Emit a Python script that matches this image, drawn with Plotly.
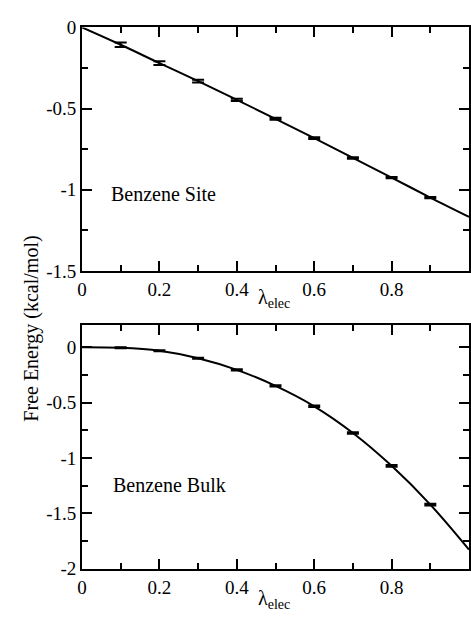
import plotly.graph_objects as go

# Electrostatic coupling parameter
lam = [0.0, 0.1, 0.2, 0.3, 0.4, 0.5, 0.6, 0.7, 0.8, 0.9, 1.0]

# Benzene in the binding site (kcal/mol)
site_dg = [0.0, -0.107, -0.220, -0.331, -0.446, -0.563, -0.682, -0.804, -0.925, -1.048, -1.167]
site_err = [0.0, 0.014, 0.011, 0.009, 0.007, 0.006, 0.005, 0.005, 0.004, 0.004, 0.0]

# Benzene in bulk water (kcal/mol)
bulk_dg = [0.0, -0.005, -0.032, -0.099, -0.204, -0.349, -0.533, -0.774, -1.071, -1.421, -1.828]
bulk_err = [0.0, 0.004, 0.004, 0.005, 0.005, 0.006, 0.006, 0.007, 0.008, 0.008, 0.0]

# x axis: major every 0.2, minor every 0.1
x_major_step = 0.2
x_minor_step = 0.1
site_yticks = [0, -0.5, -1.0, -1.5]
site_yticktext = ["0", "-0.5", "-1", "-1.5"]
bulk_yticks = [0, -0.5, -1.0, -1.5, -2.0]
bulk_yticktext = ["0", "-0.5", "-1", "-1.5", "-2"]

W, H = 471, 629
FONT = "Times New Roman"

fig = go.Figure()

def add_panel(y, err, xa, ya):
    # smooth curve through every window
    fig.add_trace(go.Scatter(
        x=lam, y=y, mode="lines", line=dict(color="black", width=2, shape="spline"),
        xaxis=xa, yaxis=ya, showlegend=False, hoverinfo="skip"))
    # error bars on the interior windows
    fig.add_trace(go.Scatter(
        x=lam[1:-1], y=y[1:-1], mode="markers", marker=dict(size=1, color="black"),
        error_y=dict(type="data", array=err[1:-1], color="black", thickness=2, width=6),
        xaxis=xa, yaxis=ya, showlegend=False))

add_panel(site_dg, site_err, "x", "y")
add_panel(bulk_dg, bulk_err, "x2", "y2")

def px_x(p):
    return p / W

def px_y(p):
    return 1 - p / H

x_dom = [px_x(78), px_x(470)]
top_dom = [px_y(270), px_y(18)]
bot_dom = [px_y(578), px_y(326)]

tf = dict(family=FONT, size=19, color="black")
frame = dict(showline=True, linecolor="black", linewidth=2, mirror="ticks",
             ticks="inside", ticklen=10, tickwidth=2, tickcolor="black",
             showgrid=False, zeroline=False, tickfont=tf)

def xaxis(anchor):
    return dict(domain=x_dom, anchor=anchor, range=[0, 1], tickmode="linear", tick0=0,
                dtick=x_major_step,
                minor=dict(ticks="inside", ticklen=6, tickwidth=2, tickcolor="black",
                           tick0=0, dtick=x_minor_step),
                **frame)

def yaxis(domain, anchor, rng, vals, text):
    return dict(domain=domain, anchor=anchor, range=rng, tickvals=vals, ticktext=text,
                minor=dict(ticks="inside", ticklen=6, tickwidth=2, tickcolor="black",
                           dtick=0.25),
                **frame)

fig.update_layout(
    width=W, height=H,
    margin=dict(l=0, r=0, t=0, b=0),
    paper_bgcolor="white", plot_bgcolor="rgba(0,0,0,0)",
    font=dict(family=FONT, color="black"),
    xaxis=xaxis("y"),
    yaxis=yaxis(top_dom, "x", [-1.5, 0], site_yticks, site_yticktext),
    xaxis2=xaxis("y2"),
    yaxis2=yaxis(bot_dom, "x2", [-2, 0.2], bulk_yticks, bulk_yticktext),
)

ann_font = dict(family=FONT, size=20, color="black")
fig.add_annotation(text="Benzene Site", x=px_x(105), y=px_y(190), xref="paper", yref="paper",
                   xanchor="left", yanchor="middle", showarrow=False, font=ann_font)
fig.add_annotation(text="Benzene Bulk", x=px_x(107), y=px_y(491), xref="paper", yref="paper",
                   xanchor="left", yanchor="middle", showarrow=False, font=ann_font)
fig.add_annotation(text="λ<sub>elec</sub>", x=px_x(272), y=px_y(298), xref="paper", yref="paper",
                   xanchor="center", yanchor="middle", showarrow=False, font=ann_font)
fig.add_annotation(text="λ<sub>elec</sub>", x=px_x(272), y=px_y(610), xref="paper", yref="paper",
                   xanchor="center", yanchor="middle", showarrow=False, font=ann_font)
fig.add_annotation(text="Free Energy (kcal/mol)", x=px_x(27), y=px_y(330), xref="paper",
                   yref="paper", xanchor="center", yanchor="middle", textangle=-90,
                   showarrow=False, font=ann_font)

fig.write_html("out.html")
